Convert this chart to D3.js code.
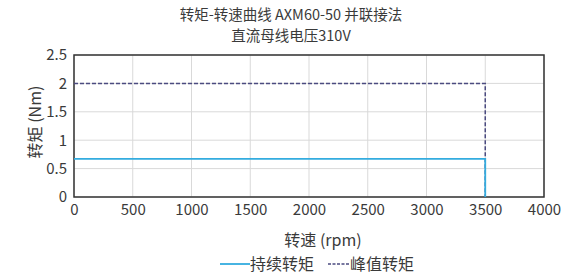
<!DOCTYPE html>
<html>
<head>
<meta charset="utf-8">
<script src="https://cdn.jsdelivr.net/npm/d3@7"></script>
<style>
  body { margin: 0; background: #fff; }
  text { font-family: "Noto Sans CJK SC", "Noto Sans", sans-serif; fill: #3a3a3a; }
</style>
</head>
<body>
<svg></svg>
<script>
let width = 570;
let height = 276;

// data
let speed = [0, 3500, 3500];
let contTorque = [0.67, 0.67, 0];
let peakTorque = [2, 2, 0];
let xTicks = [0, 500, 1000, 1500, 2000, 2500, 3000, 3500, 4000];
let yTicks = [0, 0.5, 1, 1.5, 2, 2.5];

let margin = {left: 74, right: 26, top: 55, bottom: 79};

let svg = d3.select('svg')
            .attr('width', width)
            .attr('height', height);

let x = d3.scaleLinear().domain([0, 4000]).range([margin.left, width - margin.right]);
let y = d3.scaleLinear().domain([0, 2.5]).range([height - margin.bottom, margin.top]);

// grid
svg.append('g')
   .selectAll('line')
   .data(xTicks)
   .enter()
   .append('line')
   .attr('x1', d => x(d)).attr('x2', d => x(d))
   .attr('y1', y(0)).attr('y2', y(2.5))
   .attr('stroke', '#d9d9d9');

svg.append('g')
   .selectAll('line')
   .data(yTicks)
   .enter()
   .append('line')
   .attr('x1', x(0)).attr('x2', x(4000))
   .attr('y1', d => y(d)).attr('y2', d => y(d))
   .attr('stroke', '#d9d9d9');

// frame
svg.append('rect')
   .attr('x', x(0)).attr('y', y(2.5))
   .attr('width', x(4000) - x(0))
   .attr('height', y(0) - y(2.5))
   .attr('fill', 'none')
   .attr('stroke', '#333')
   .attr('stroke-width', 1.5);

// axes
let xAxis = svg.append('g')
   .attr('transform', 'translate(0,' + y(0) + ')')
   .call(d3.axisBottom(x).tickValues(xTicks).tickSize(0).tickPadding(7).tickFormat(d3.format('d')));
xAxis.select('.domain').remove();
xAxis.selectAll('text').style('font-size', '15px').attr('fill', '#3a3a3a');

let yAxis = svg.append('g')
   .attr('transform', 'translate(' + x(0) + ',0)')
   .call(d3.axisLeft(y).tickValues(yTicks).tickSize(0).tickPadding(7).tickFormat(d3.format('')));
yAxis.select('.domain').remove();
yAxis.selectAll('text').style('font-size', '15px').attr('fill', '#3a3a3a');

// lines
let line = d3.line().x(d => x(d[0])).y(d => y(d[1]));

svg.append('path')
   .datum(d3.zip(speed, peakTorque))
   .attr('d', line)
   .attr('fill', 'none')
   .attr('stroke', '#4b4b80')
   .attr('stroke-width', 1.5)
   .attr('stroke-dasharray', '4,2');

svg.append('path')
   .datum(d3.zip(speed, contTorque))
   .attr('d', line)
   .attr('fill', 'none')
   .attr('stroke', '#33acdf')
   .attr('stroke-width', 1.8);

// titles
svg.append('text')
   .attr('x', 291).attr('y', 20)
   .attr('text-anchor', 'middle')
   .style('font-size', '14.5px')
   .text('转矩-转速曲线 AXM60-50 并联接法');
svg.append('text')
   .attr('x', 291).attr('y', 41)
   .attr('text-anchor', 'middle')
   .style('font-size', '14.5px')
   .text('直流母线电压310V');

svg.append('text')
   .attr('x', 323).attr('y', 246)
   .attr('text-anchor', 'middle')
   .style('font-size', '16px')
   .text('转速 (rpm)');

svg.append('text')
   .attr('transform', 'translate(41,122) rotate(-90)')
   .attr('text-anchor', 'middle')
   .style('font-size', '16px')
   .text('转矩 (Nm)');

// legend
let legend = svg.append('g');
legend.append('line')
   .attr('x1', 220).attr('x2', 250).attr('y1', 264).attr('y2', 264)
   .attr('stroke', '#33acdf').attr('stroke-width', 1.8);
legend.append('text')
   .attr('x', 250).attr('y', 270)
   .style('font-size', '16px')
   .text('持续转矩');
legend.append('line')
   .attr('x1', 328).attr('x2', 350).attr('y1', 264).attr('y2', 264)
   .attr('stroke', '#4b4b80').attr('stroke-width', 1.5)
   .attr('stroke-dasharray', '3,1.5');
legend.append('text')
   .attr('x', 350).attr('y', 270)
   .style('font-size', '16px')
   .text('峰值转矩');
</script>
</body>
</html>
